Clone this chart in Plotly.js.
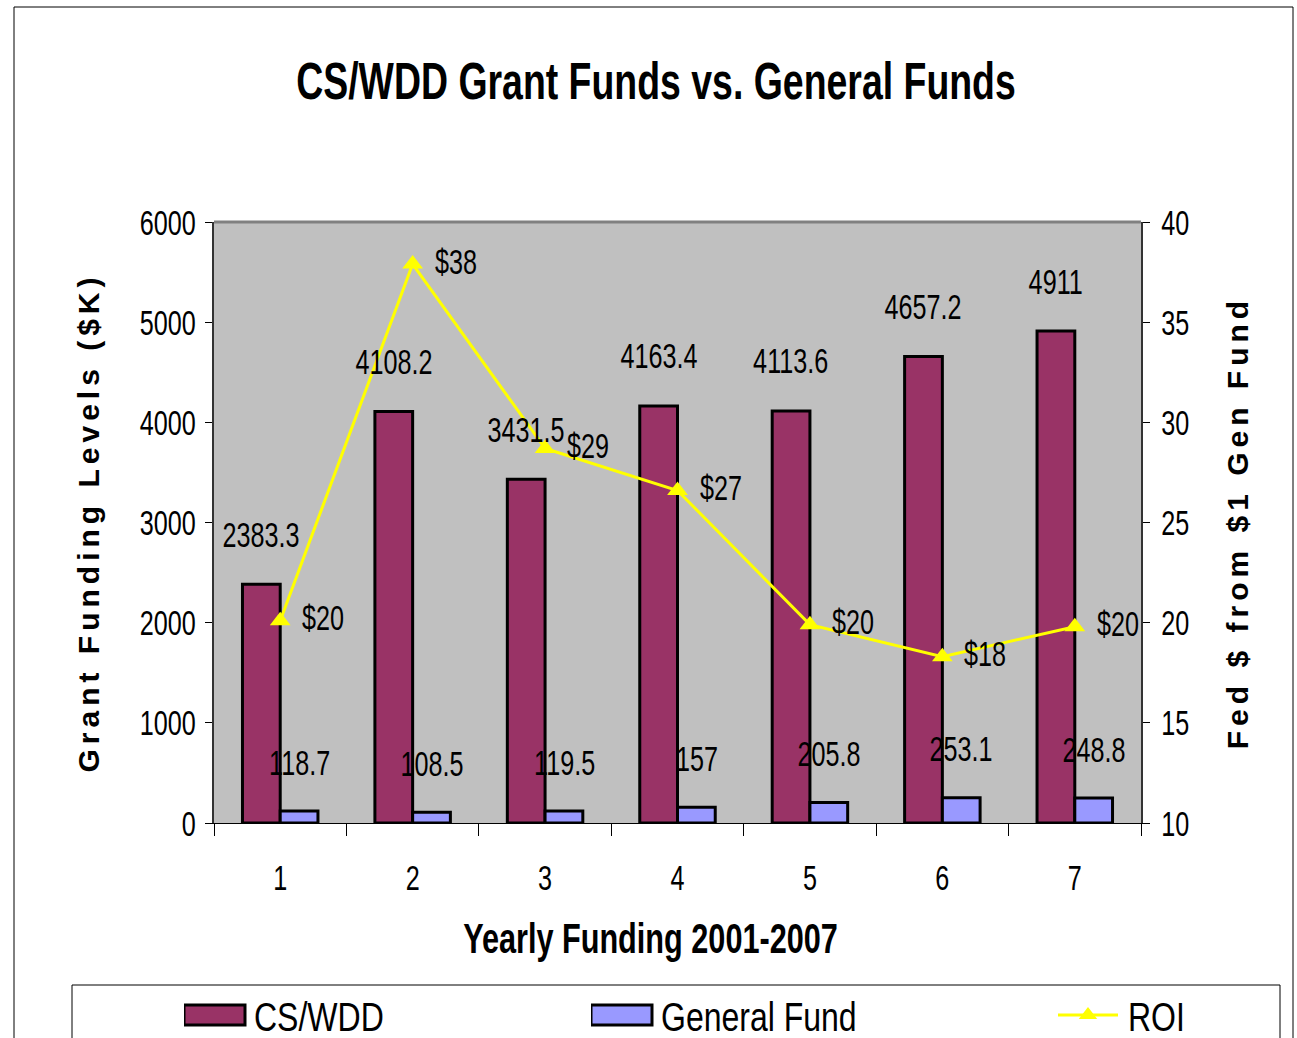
<!DOCTYPE html>
<html><head><meta charset="utf-8">
<script src="https://cdn.plot.ly/plotly-3.0.1.min.js"></script>
<style>html,body{margin:0;padding:0;background:#fff;} #chart{width:1297px;height:1038px;}</style>
</head><body><div id="chart"></div>
<script>
// ---- data ----
const years = ['1', '2', '3', '4', '5', '6', '7'];
const cswdd = [2383.3, 4108.2, 3431.5, 4163.4, 4113.6, 4657.2, 4911];
const generalFund = [118.7, 108.5, 119.5, 157, 205.8, 253.1, 248.8];
const roi = [20.1, 37.9, 28.7, 26.6, 19.9, 18.3, 19.8];
const roiLabels = ['$20', '$38', '$29', '$27', '$20', '$18', '$20'];

const FN = '"Liberation Sans", Arial, sans-serif';

const data = [
  {type: 'bar', name: 'CS/WDD', x: years, y: cswdd, legend: 'legend',
   marker: {color: '#993366', line: {color: '#000', width: 3}}},
  {type: 'bar', name: 'General Fund', x: years, y: generalFund, legend: 'legend2',
   marker: {color: '#9999FF', line: {color: '#000', width: 3}}},
  {type: 'scatter', mode: 'lines+markers', name: 'ROI', x: years, y: roi, yaxis: 'y2', legend: 'legend3',
   line: {color: '#FFFF00', width: 3}, marker: {symbol: 'triangle-up', size: 18, color: '#FFFF00'}}
];

// annotations on a category axis are placed by category index
const annotations = [];
years.forEach((yr, i) => {
  annotations.push({x: i, y: cswdd[i], xref: 'x', yref: 'y', text: String(cswdd[i]), showarrow: false,
    xshift: -19, yshift: 50, yanchor: 'middle', font: {family: FN, size: 36, color: '#000'}});
  annotations.push({x: i, y: generalFund[i], xref: 'x', yref: 'y', text: String(generalFund[i]), showarrow: false,
    xshift: 19, yshift: 49, yanchor: 'middle', font: {family: FN, size: 36, color: '#000'}});
  annotations.push({x: i, y: roi[i], xref: 'x', yref: 'y2', text: roiLabels[i], showarrow: false,
    xshift: 43, yshift: 3, yanchor: 'middle', font: {family: FN, size: 36, color: '#000'}});
});

const legendBase = {xref: 'container', yref: 'container', y: 1 - 1015/1038, xanchor: 'left', yanchor: 'middle',
  bgcolor: 'rgba(0,0,0,0)', borderwidth: 0, font: {family: FN, size: 40, color: '#000'}, itemwidth: 60, orientation: 'h'};

const layout = {
  width: 1297, height: 1038,
  margin: {l: 214, r: 156, t: 222, b: 215},
  paper_bgcolor: '#ffffff', plot_bgcolor: '#C0C0C0',
  font: {family: FN, size: 36, color: '#000'},
  title: {text: 'CS/WDD Grant Funds vs. General Funds', font: {family: FN, size: 52, weight: 'bold', color: '#000'},
          xref: 'container', x: 656/1297, xanchor: 'center', yref: 'container', y: 1 - 81/1038, yanchor: 'middle'},
  barmode: 'group', bargap: 0.43, bargroupgap: 0,
  showlegend: true,
  legend: Object.assign({}, legendBase, {x: 184/1297}),
  legend2: Object.assign({}, legendBase, {x: 591/1297}),
  legend3: Object.assign({}, legendBase, {x: 1058/1297}),
  xaxis: {type: 'category', range: [-0.5, 6.5], tickson: 'boundaries', ticks: 'outside', ticklen: 12, tickcolor: '#000', tickwidth: 1,
          showline: true, linecolor: '#000', linewidth: 1, showgrid: false, zeroline: false,
          tickfont: {family: FN, size: 36}, ticklabelstandoff: 23,
          title: {text: 'Yearly Funding 2001-2007', font: {family: FN, size: 42, weight: 'bold'}, standoff: 26}},
  yaxis: {range: [0, 6000], dtick: 1000, ticks: 'outside', ticklen: 7, tickcolor: '#000', showline: true,
          linecolor: '#333', linewidth: 2, showgrid: false, zeroline: false, tickfont: {family: FN, size: 36},
          ticklabelstandoff: 2,
          title: {text: 'Grant Funding Levels ($K)', font: {family: FN, size: 30, weight: 'bold'}, standoff: 7}},
  yaxis2: {range: [10, 40], dtick: 5, overlaying: 'y', side: 'right', ticks: 'outside', ticklen: 7, tickcolor: '#000',
           showline: true, linecolor: '#333', linewidth: 2, showgrid: false, zeroline: false,
           tickfont: {family: FN, size: 36}, ticklabelstandoff: 4,
           title: {text: 'Fed $ from $1 Gen Fund', font: {family: FN, size: 30, weight: 'bold'}, standoff: 27}},
  annotations: annotations,
  shapes: [
    {type: 'line', xref: 'paper', yref: 'paper', x0: 0, x1: 1, y0: 1, y1: 1, line: {color: '#808080', width: 3}},
    {type: 'rect', xref: 'paper', yref: 'paper', x0: (14-214)/927, x1: (1293-214)/927, y0: -0.37, y1: (823-7)/601,
     line: {color: '#000', width: 1}, fillcolor: 'rgba(0,0,0,0)', layer: 'below'},
    {type: 'rect', xref: 'paper', yref: 'paper', x0: (72-214)/927, x1: (1280-214)/927, y0: -0.37, y1: (823-985)/601,
     line: {color: '#000', width: 1}, fillcolor: 'rgba(0,0,0,0)'}
  ]
};

// condense text horizontally (the reference uses tall narrow lettering)
function condense(el, s, dx) {
  const cur = el.getAttribute('transform') || '';
  if (el.__myT === cur) return;
  const x = parseFloat(el.getAttribute('x') || 0), y = parseFloat(el.getAttribute('y') || 0);
  let px = x, py = y;
  const tl = el.transform.baseVal;
  if (tl.numberOfItems) {
    const m = tl.consolidate().matrix;
    px = m.a * x + m.c * y + m.e; py = m.b * x + m.d * y + m.f;
  }
  const nt = 'translate(' + (px + (dx || 0)) + ',' + py + ') scale(' + s + ',1) translate(' + (-px) + ',' + (-py) + ') ' + cur;
  el.setAttribute('transform', nt);
  el.__myT = nt;
}

function fix() {
  const gd = document.getElementById('chart');
  gd.querySelectorAll('.ytitle, .y2title').forEach(t => { t.style.letterSpacing = '5px'; });
  gd.querySelectorAll('svg text').forEach(t => {
    if (t.classList.contains('ytitle') || t.classList.contains('y2title')) return;
    let s = 0.7, dx = 0;
    if (t.classList.contains('gtitle')) s = 0.72;
    else if (t.closest('g.traces') || t.classList.contains('legendtext')) s = 0.8;
    else if (t.classList.contains('xtitle')) { s = 0.73; dx = -27; }
    condense(t, s, dx);
  });
  // legend swatches: wide boxes and a long line like the reference
  gd.querySelectorAll('g.traces path').forEach(p => {
    const cls = p.getAttribute('class') || '';
    const parentCls = (p.parentNode && p.parentNode.getAttribute('class')) || '';
    if (cls.indexOf('js-fill') >= 0) return;
    if (cls.indexOf('js-line') >= 0 || parentCls.indexOf('legendlines') >= 0) {
      p.setAttribute('d', 'M-2,0h62');
      p.setAttribute('transform', 'translate(0,0)');
    } else if (cls.indexOf('scatterpts') >= 0) {
      p.setAttribute('transform', 'translate(30,0)');
    } else {
      p.setAttribute('d', 'M0,-10H61V10H0Z');
      p.setAttribute('transform', 'translate(0,0)');
    }
  });
}

const gdiv = document.getElementById('chart');
Plotly.newPlot(gdiv, data, layout, {staticPlot: true}).then(() => {
  fix();
  gdiv.on('plotly_afterplot', fix);
  setTimeout(fix, 100);
});
</script>
</body></html>
